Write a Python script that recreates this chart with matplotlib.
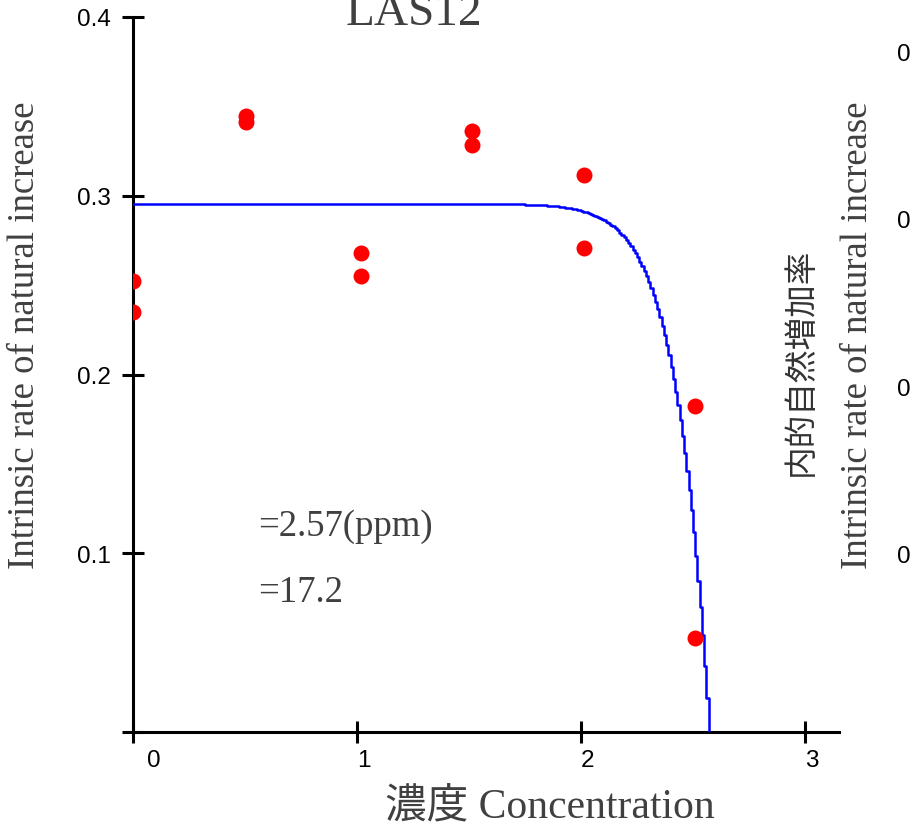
import numpy as np
import matplotlib
matplotlib.use("Agg")
import matplotlib.pyplot as plt

# ---- data ----
conc = [0.0, 0.0, 0.504, 0.504, 1.016, 1.016, 1.515, 1.515, 2.013, 2.013, 2.509, 2.509]
rate = [0.2523, 0.2350, 0.3446, 0.3412, 0.2678, 0.2553, 0.3364, 0.3286, 0.3116, 0.2708, 0.1824, 0.0526]

# fitted model parameters (shown on chart / read from plateau)
r_max = 0.2955
c_crit = 2.57
b_exp = 17.2

xticks = [0, 1, 2, 3]
xticklabels = ["0", "1", "2", "3"]
yticks = [0.0, 0.1, 0.2, 0.3, 0.4]
yticklabels = ["", "0.1", "0.2", "0.3", "0.4"]

title = "LAS12"
ylabel = "Intrinsic rate of natural increase"
xlabel = "濃度 Concentration"
ann1 = "=2.57(ppm)"
ann2 = "=17.2"
right_jp = "内的自然増加率"

W, H = 916, 829
fig = plt.figure(figsize=(W / 100, H / 100), dpi=100)
fig.patch.set_facecolor("white")

xmax = 3.15
ax_left, ax_bottom = 133 / W, 96 / H
ax_w = xmax * 224 / W
ax_h = 715 / H
ax = fig.add_axes([ax_left, ax_bottom, ax_w, ax_h])
ax.set_xlim(0, xmax)
ax.set_ylim(0, 0.4)

for s in ["top", "right"]:
    ax.spines[s].set_visible(False)
for s in ["left", "bottom"]:
    ax.spines[s].set_linewidth(2.2)
    ax.spines[s].set_color("black")

# fitted curve
c_grid = np.arange(0, c_crit + 1e-9, 0.01)
c_grid = np.append(c_grid, c_crit)
r_fit = r_max * (1 - (c_grid / c_crit) ** b_exp)
r_fit = np.clip(r_fit, 0, None)
ax.plot(c_grid, r_fit, color="#0000ff", lw=1.8, drawstyle="steps-post", zorder=3)

# observations
ax.plot(conc, rate, "o", color="#ff0000", markersize=11.5, markeredgewidth=0, zorder=4)

tick_font = ["Liberation Sans", "DejaVu Sans"]
ax.set_yticks(yticks)
ax.set_yticklabels(yticklabels)
ax.set_xticks(xticks)
ax.set_xticklabels([])
ax.tick_params(axis="both", direction="inout", length=16, width=2.2, color="black")
ax.tick_params(axis="y", labelsize=17.5, pad=8)
for lab in ax.get_yticklabels():
    lab.set_family(tick_font)

offsets = {"0": 21, "1": 7, "2": 7, "3": 7}
for v, lab in zip(xticks, xticklabels):
    ax.annotate(lab, xy=(v, 0), xycoords=("data", "axes fraction"),
                xytext=(offsets[lab], -17), textcoords="offset pixels",
                ha="center", va="top", fontsize=17.5, family=tick_font)

serif = ["Liberation Serif", "Noto Sans CJK JP"]
grey = "#404040"

ax.text(0.558, 0.1152, ann1, fontsize=26.5, family=serif, color=grey, va="center", ha="left")
ax.text(0.558, 0.0783, ann2, fontsize=26.5, family=serif, color=grey, va="center", ha="left")

fig.text(414 / W, 1 - 25 / H, title, fontsize=34, family=serif, color=grey,
         ha="center", va="baseline")
fig.text(25 / W, 1 - 335 / H, ylabel, fontsize=26.5, family=serif, color=grey,
         rotation=90, ha="center", va="center")
fig.text(550 / W, 1 - 808 / H, xlabel, fontsize=30, family=["Liberation Serif", "Noto Sans CJK JP"],
         color=grey, ha="center", va="center")

# neighbouring panel remnants on the right edge
fig.text(801 / W, 1 - 362 / H, right_jp, fontsize=23.5, family=["Noto Sans CJK JP"], color="#333333",
         rotation=90, ha="center", va="center")
fig.text(858 / W, 1 - 335 / H, ylabel, fontsize=26.5, family=serif, color=grey,
         rotation=90, ha="center", va="center")
for yy in [55, 222, 390, 557]:
    fig.text(897 / W, 1 - yy / H, "0", fontsize=17.5, family=tick_font, color="black",
             ha="left", va="center")

fig.savefig("out.png", dpi=100)
